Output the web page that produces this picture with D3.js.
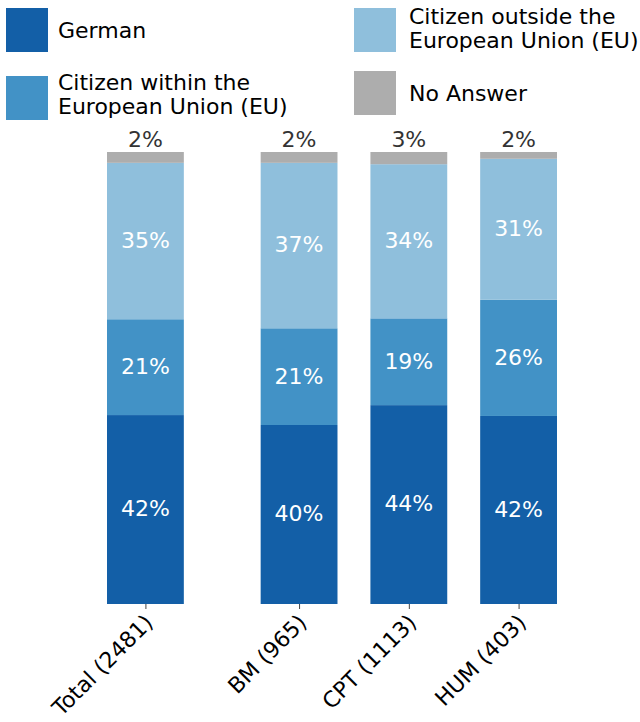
<!DOCTYPE html>
<html>
<head>
<meta charset="utf-8">
<script src="https://cdn.jsdelivr.net/npm/d3@7"></script>
<style>
  html, body { margin: 0; padding: 0; background: #fff; }
  svg { display: block; font-family: "DejaVu Sans", sans-serif; }
</style>
</head>
<body>
<svg id="chart" width="640" height="722"></svg>
<script>
// ---- data ----
const categories = ["Total (2481)", "BM (965)", "CPT (1113)", "HUM (403)"];
const seriesNames = ["German", "Citizen within the European Union (EU)", "Citizen outside the European Union (EU)", "No Answer"];
const german      = [41.8, 39.6, 44.0, 41.6];
const withinEU    = [21.2, 21.4, 19.2, 25.7];
const outsideEU   = [34.6, 36.6, 34.1, 31.2];
const noAnswer    = [2.4, 2.4, 2.7, 1.5];
const legendLines = [["German"], ["Citizen within the", "European Union (EU)"], ["Citizen outside the", "European Union (EU)"], ["No Answer"]];

// ---- layout / style ----
const colors = ["#135fa7", "#4292c6", "#8fbfdc", "#adadad"];
const slotPos = [0, 1.4, 2.4, 3.4];
const barW = 0.7;
const fontSize = 22;

const svg = d3.select("#chart");
const x = d3.scaleLinear().domain([-0.35, 3.75]).range([107, 557]);
const y = d3.scaleLinear().domain([0, 100]).range([604, 152]);

const rows = categories.map((c, i) => ({
  cat: c, pos: slotPos[i],
  s0: german[i], s1: withinEU[i], s2: outsideEU[i], s3: noAnswer[i]
}));
const stack = d3.stack().keys(["s0", "s1", "s2", "s3"])(rows);

const g = svg.append("g");
stack.forEach((layer, li) => {
  const lg = g.append("g").attr("fill", colors[li]);
  lg.selectAll("rect").data(layer).join("rect")
    .attr("x", d => x(d.data.pos - barW / 2))
    .attr("width", d => x(d.data.pos + barW / 2) - x(d.data.pos - barW / 2))
    .attr("y", d => y(d[1]))
    .attr("height", d => y(d[0]) - y(d[1]));
  if (li < 3) {
    g.append("g").selectAll("text").data(layer).join("text")
      .attr("x", d => x(d.data.pos))
      .attr("y", d => (y(d[0]) + y(d[1])) / 2 - 1)
      .attr("dy", "0.36em")
      .attr("text-anchor", "middle")
      .attr("fill", "#fff")
      .attr("font-size", fontSize)
      .text(d => Math.round(d[1] - d[0]) + "%");
  } else {
    g.append("g").selectAll("text").data(layer).join("text")
      .attr("x", d => x(d.data.pos))
      .attr("y", d => y(d[1]) - 5)
      .attr("text-anchor", "middle")
      .attr("fill", "#333")
      .attr("font-size", fontSize)
      .text(d => Math.round(d[1] - d[0]) + "%");
  }
});

// ---- x axis ----
const axis = d3.axisBottom(x).tickValues(slotPos).tickSize(5).tickFormat("");
const ag = svg.append("g").attr("transform", "translate(0,604)").call(axis);
ag.select(".domain").remove();
ag.selectAll(".tick line").attr("stroke", "#444").attr("stroke-width", 1);
svg.append("g").selectAll("text").data(rows).join("text")
  .attr("transform", d => `translate(${x(d.pos) + 9},624) rotate(-45)`)
  .attr("text-anchor", "end")
  .attr("fill", "#000")
  .attr("font-size", fontSize)
  .text(d => d.cat);

// ---- legend ----
const legendPos = [
  { sx: 6, sy: 8, tx: 58, ty: [38] },
  { sx: 6, sy: 76, tx: 58, ty: [90, 114] },
  { sx: 354, sy: 8, tx: 409, ty: [24, 48] },
  { sx: 354, sy: 71, tx: 409, ty: [101] }
];
const leg = svg.append("g");
seriesNames.forEach((name, i) => {
  const p = legendPos[i];
  leg.append("rect").attr("x", p.sx).attr("y", p.sy).attr("width", 42).attr("height", 44)
    .attr("fill", colors[i]);
  legendLines[i].forEach((line, j) => {
    leg.append("text").attr("x", p.tx).attr("y", p.ty[j])
      .attr("font-size", fontSize).attr("fill", "#000").text(line);
  });
});
</script>
</body>
</html>
